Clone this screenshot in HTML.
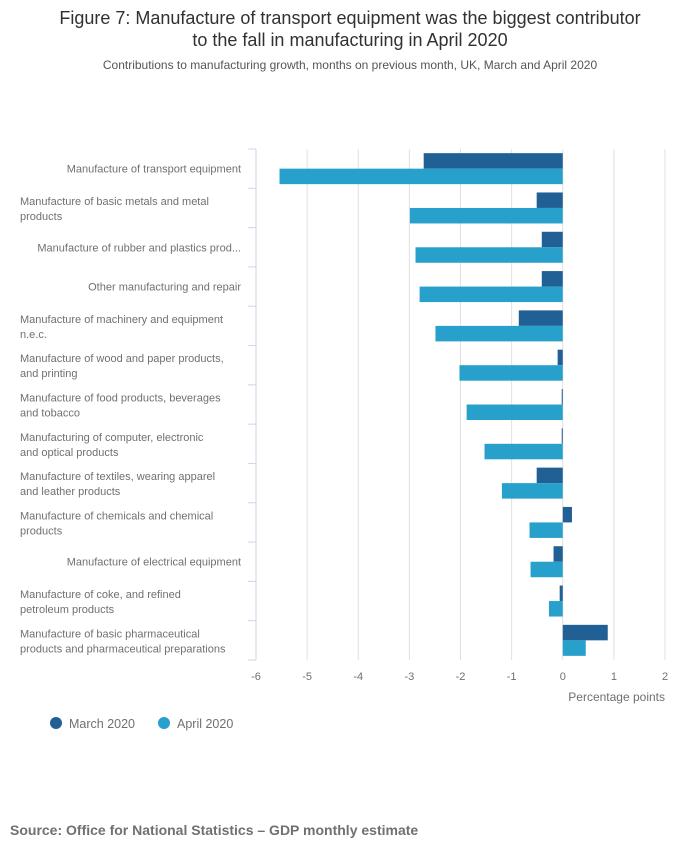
<!DOCTYPE html>
<html><head><meta charset="utf-8"><style>
body{margin:0;background:#fff;font-family:"Liberation Sans","DejaVu Sans",sans-serif;}
svg text{font-family:"Liberation Sans","DejaVu Sans",sans-serif;}
</style></head><body>
<svg id="chart" width="700" height="857" xmlns="http://www.w3.org/2000/svg">
<text x="350" y="24" text-anchor="middle" font-size="18" fill="#323132">Figure 7: Manufacture of transport equipment was the biggest contributor</text>
<text x="350" y="46" text-anchor="middle" font-size="18" fill="#323132">to the fall in manufacturing in April 2020</text>
<text x="350" y="69" text-anchor="middle" font-size="12" fill="#555">Contributions to manufacturing growth, months on previous month, UK, March and April 2020</text>
<g id="grid"></g><g id="bars"></g><g id="labels"></g><g id="axis"></g>
<text x="665" y="701" text-anchor="end" font-size="12" fill="#707070">Percentage points</text>
<g><circle cx="56" cy="723" r="6" fill="#206095"/><text x="69" y="728" font-size="12.5" fill="#707070">March 2020</text></g>
<g><circle cx="164" cy="723" r="6" fill="#27a0cc"/><text x="177" y="728" font-size="12.5" fill="#707070">April 2020</text></g>
<text x="10" y="835" font-size="14" font-weight="bold" fill="#707070">Source: Office for National Statistics – GDP monthly estimate</text>
</svg>
<script>
const categories=[["Manufacture of transport equipment"],["Manufacture of basic metals and metal","products"],["Manufacture of rubber and plastics prod..."],["Other manufacturing and repair"],["Manufacture of machinery and equipment","n.e.c."],["Manufacture of wood and paper products,","and printing"],["Manufacture of food products, beverages","and tobacco"],["Manufacturing of computer, electronic","and optical products"],["Manufacture of textiles, wearing apparel","and leather products"],["Manufacture of chemicals and chemical","products"],["Manufacture of electrical equipment"],["Manufacture of coke, and refined","petroleum products"],["Manufacture of basic pharmaceutical","products and pharmaceutical preparations"]];
const march=[-2.72,-0.51,-0.41,-0.41,-0.86,-0.10,-0.02,-0.02,-0.51,0.18,-0.18,-0.06,0.88];
const april=[-5.54,-2.99,-2.88,-2.80,-2.49,-2.02,-1.88,-1.53,-1.19,-0.65,-0.63,-0.27,0.45];
const ticks=[-6,-5,-4,-3,-2,-1,0,1,2];
const NS="http://www.w3.org/2000/svg";
const x0=256,x1=665,yTop=149,yBot=660,vmin=-6,vmax=2;
const X=v=>x0+(v-vmin)/(vmax-vmin)*(x1-x0);
const band=(yBot-yTop)/categories.length;
const Y=i=>yTop+i*band;
function mk(t,a,p){const e=document.createElementNS(NS,t);for(const k in a)e.setAttribute(k,a[k]);p.appendChild(e);return e;}
const grid=document.getElementById('grid'),bars=document.getElementById('bars'),labels=document.getElementById('labels'),axis=document.getElementById('axis');
ticks.forEach(t=>{
 if(t!==vmin){const l=mk('line',{x1:X(t),x2:X(t),y1:yTop,y2:yBot,stroke:'#e0e0e0','stroke-width':1},grid);
 
 }
 const tx=mk('text',{x:X(t),y:680,'text-anchor':'middle','font-size':11,fill:'#707070'},axis);
 tx.textContent=t;
 
 
});
const al=mk('line',{x1:x0,x2:x0,y1:yTop,y2:yBot,stroke:'#ccd6e6','stroke-width':1},axis);


for(let i=0;i<=categories.length;i++){const tk=mk('line',{x1:x0-8,x2:x0,y1:Y(i),y2:Y(i),stroke:'#ccd6e6','stroke-width':1},axis);
 
 }
const bh=15.5;
categories.forEach((c,i)=>{
 const yc=Y(i)+band/2;
 const a=mk('rect',{x:Math.min(X(0),X(march[i])),y:yc-bh,width:Math.abs(X(march[i])-X(0)),height:bh,fill:'#206095'},bars);
 
 
 const b=mk('rect',{x:Math.min(X(0),X(april[i])),y:yc,width:Math.abs(X(april[i])-X(0)),height:bh,fill:'#27a0cc'},bars);
 
 
 if(c.length===1){
  const t=mk('text',{x:241,y:yc+4,'text-anchor':'end','font-size':11,fill:'#707070'},labels);t.textContent=c[0];
  
  
 } else {
  c.forEach((s,j)=>{const t=mk('text',{x:20,y:yc-3+j*15,'font-size':11,fill:'#707070'},labels);t.textContent=s;
  
  });
 }
});
</script>
</body></html>
